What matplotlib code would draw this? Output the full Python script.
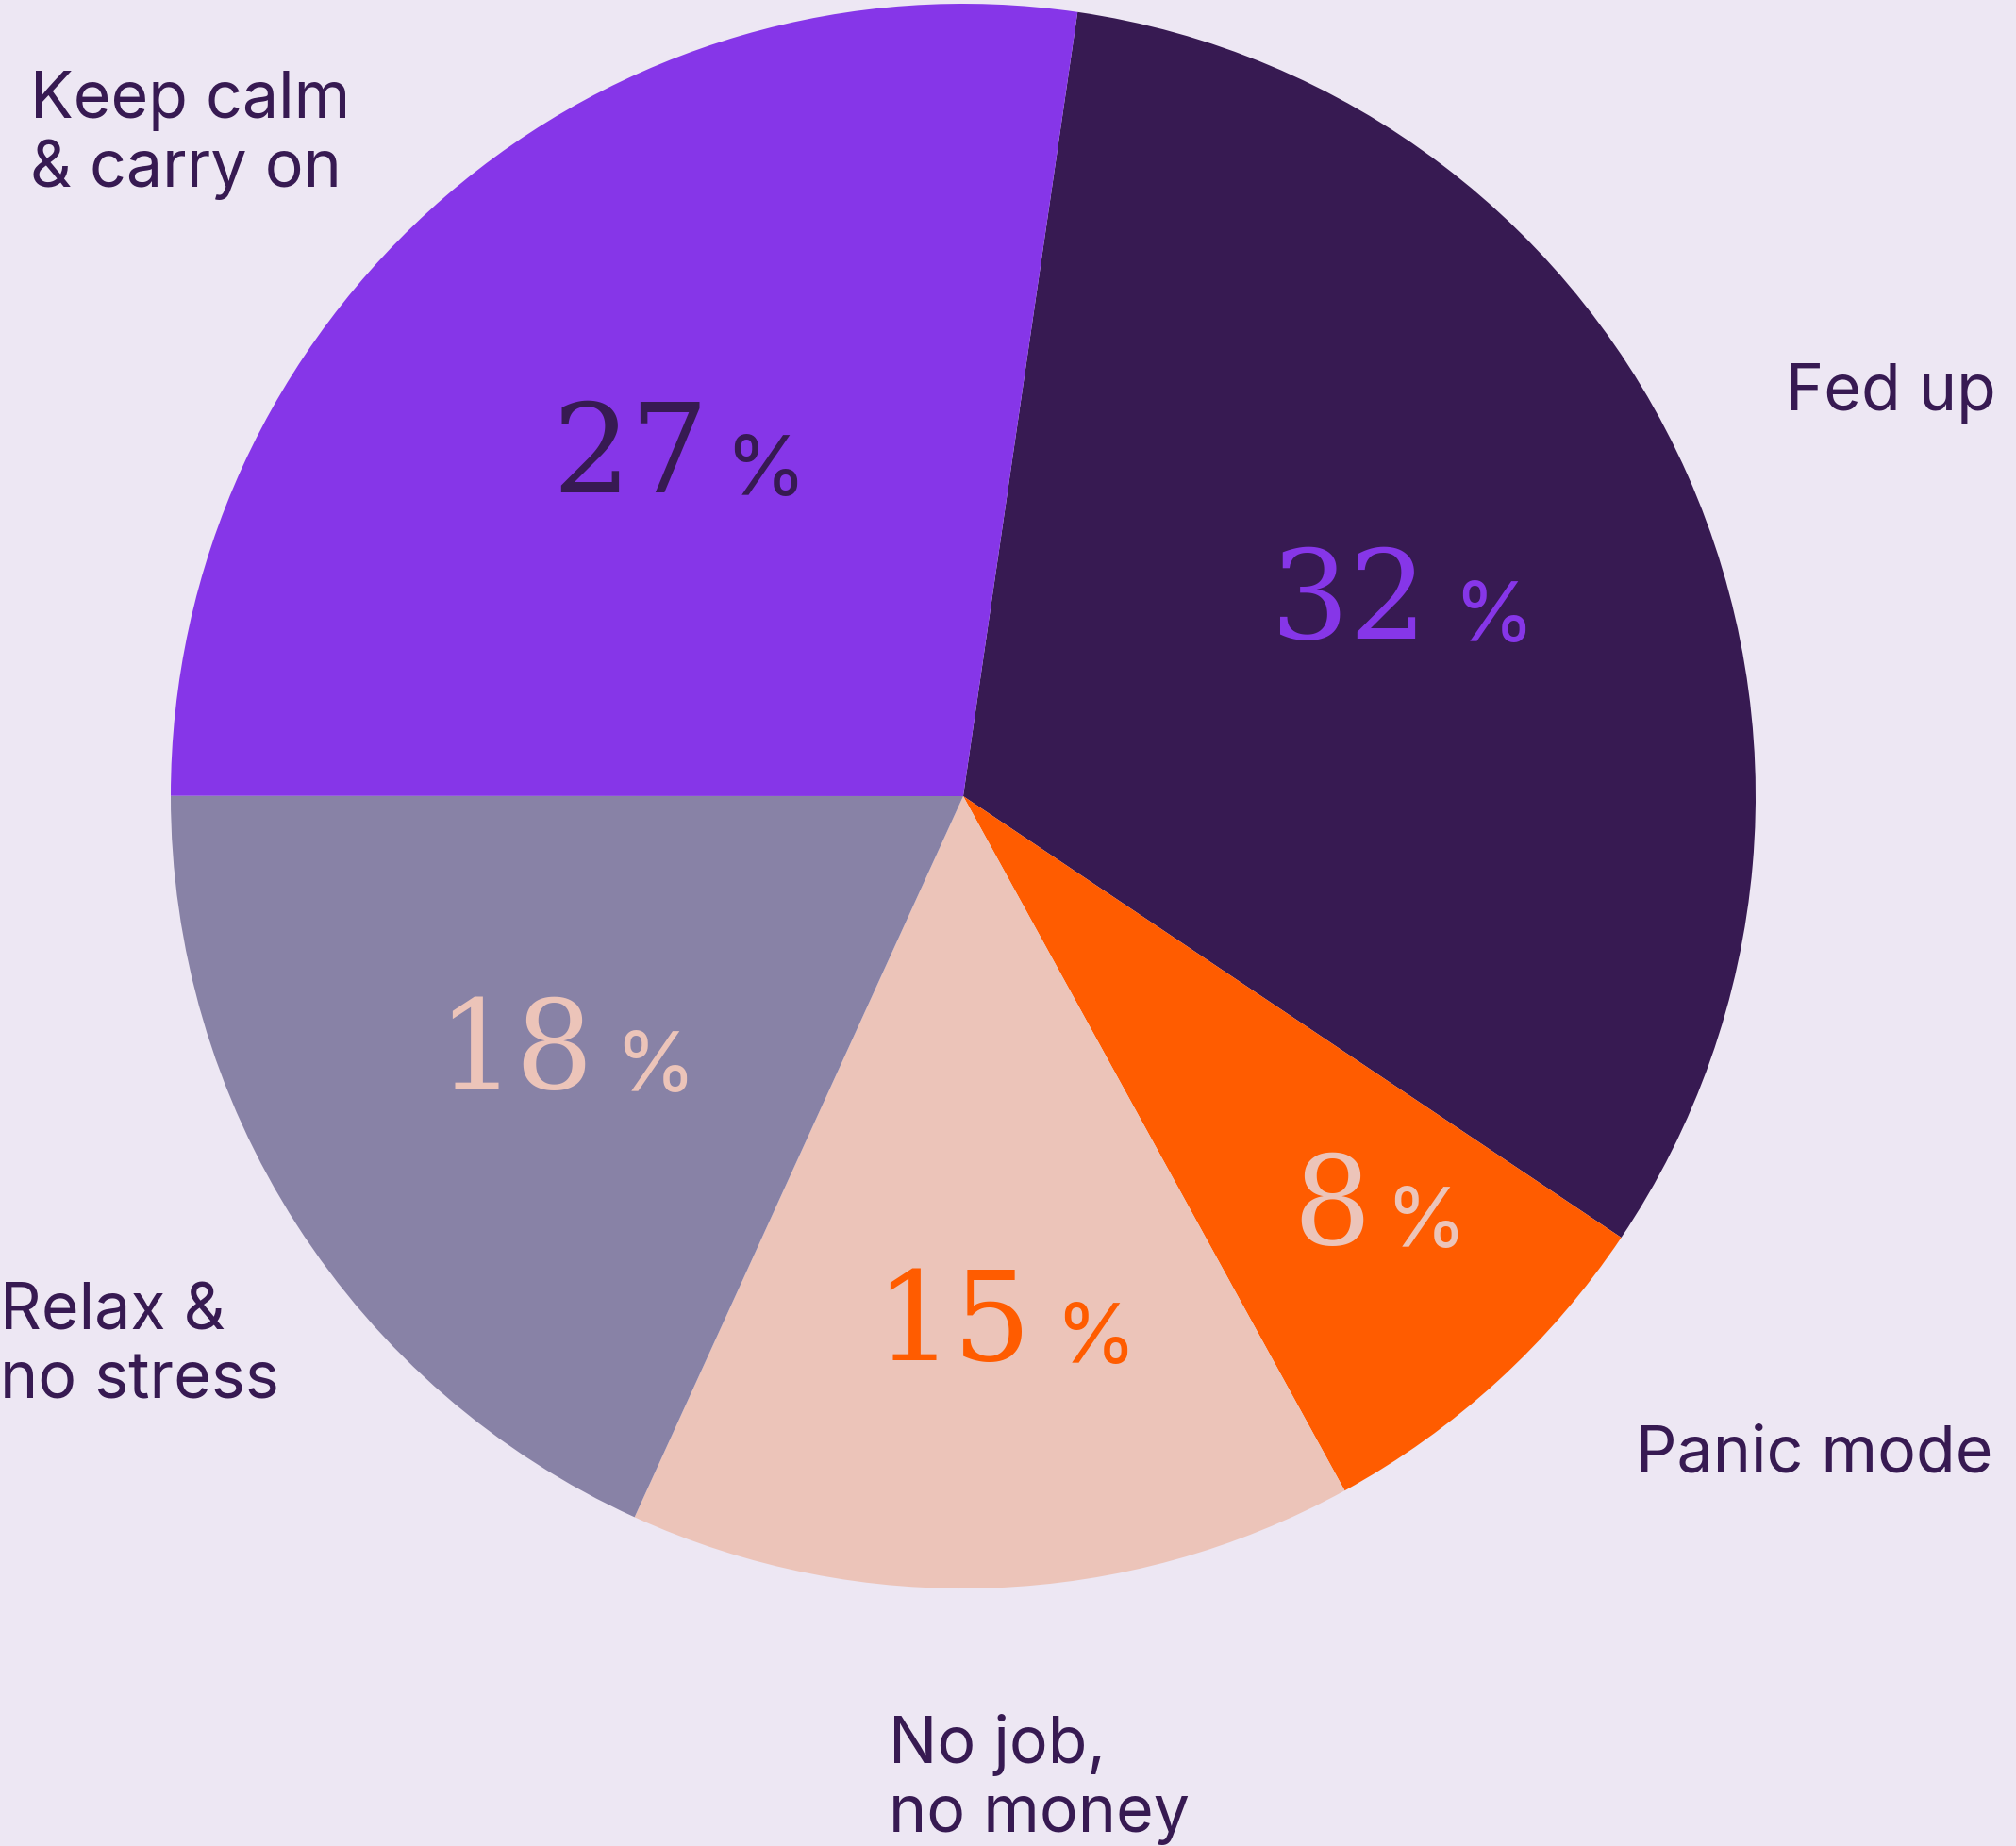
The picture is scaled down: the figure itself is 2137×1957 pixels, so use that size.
import matplotlib
matplotlib.use("Agg")
import matplotlib.pyplot as plt

# ---- data ----
categories = ["Fed up", "Panic mode", "No job,\nno money", "Relax &\nno stress", "Keep calm\n& carry on"]
values = [32.1, 7.6, 14.8, 18.2, 27.3]
value_labels = ["32", "8", "15", "18", "27"]

# ---- style ----
BG = "#EDE7F3"
DARK = "#371A52"
wedge_colors = ["#371A52", "#FF5C00", "#ECC4B9", "#8882A6", "#8636E8"]
pct_colors = ["#8636E8", "#ECC4B9", "#FF5C00", "#ECC4B9", "#371A52"]

W, H = 2137, 1958
fig = plt.figure(figsize=(W / 100, H / 100), dpi=100, facecolor=BG)
ax = fig.add_axes([0, 0, 1, 1])
ax.set_facecolor(BG)

cx, cy, R = 1021, H - 845, 840
ax.pie(values, colors=wedge_colors, startangle=81.7, counterclock=False,
       center=(cx, cy), radius=R, frame=True,
       wedgeprops=dict(linewidth=0))
ax.set_xlim(0, W)
ax.set_ylim(0, H)
ax.set_aspect("equal")
ax.axis("off")

# percentage labels: (digits left x, baseline y in image px, % left x)
pct_pos = [(1347, 677, 1540), (1370, 1319, 1468), (927, 1442, 1118),
           (463, 1154, 651), (585, 522, 768)]
for lab, col, (x, y, px) in zip(value_labels, pct_colors, pct_pos):
    ax.text(x, H - y, lab, fontsize=94, family="DejaVu Serif", color=col,
            ha="left", va="baseline")
    ax.text(px, H - y - 3, "%", fontsize=63, family="Inter", color=col,
            ha="left", va="baseline")

# outer category labels: (left x, first baseline y)
cat_pos = [(1893, 435), (1734, 1561), (942, 1869), (0, 1410), (32, 125)]
for lab, (x, y) in zip(categories, cat_pos):
    lines = lab.split("\n")
    for i, line in enumerate(lines):
        ax.text(x, H - (y + i * 73), line, fontsize=49, family="Inter",
                color=DARK, ha="left", va="baseline")

fig.savefig("out.png", dpi=100, facecolor=BG)
